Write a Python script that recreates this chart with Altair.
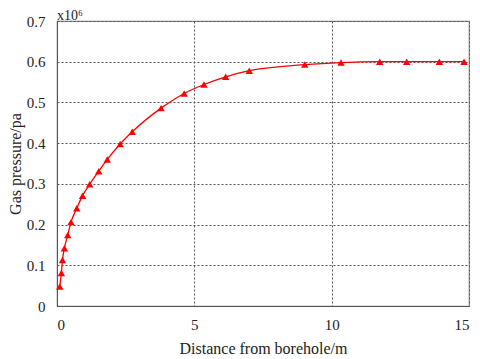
import altair as alt
import pandas as pd

distance = [0.1, 0.16, 0.2, 0.27, 0.39, 0.51, 0.72, 0.93, 1.19, 1.52, 1.83, 2.3, 2.74,
            3.79, 4.63, 5.35, 6.14, 7.0, 9.02, 10.34, 11.75, 12.73, 13.92, 14.82]
pressure = [0.048, 0.081, 0.113, 0.142, 0.174, 0.206, 0.24, 0.271, 0.299, 0.331, 0.36,
            0.398, 0.428, 0.486, 0.522, 0.544, 0.563, 0.578, 0.593, 0.598, 0.6, 0.6, 0.6, 0.6]
multiplier = ["x10⁶"]

df = pd.DataFrame({"d": distance, "p": pressure})
mdf = pd.DataFrame({"t": multiplier})

FONT = "Liberation Serif"

x = alt.X("d:Q", title="Distance from borehole/m",
          scale=alt.Scale(domain=[0, 15], nice=False),
          axis=alt.Axis(values=[0, 5, 10, 15], ticks=False, labelPadding=11,
                        titlePadding=8, labelFontSize=15, titleFontSize=16,
                        labelFont=FONT, titleFont=FONT, titleFontWeight="normal",
                        labelColor="#222", titleColor="#222",
                        domainColor="#555", gridColor="#555", gridDash=[2, 2],
                        gridWidth=1))
y = alt.Y("p:Q", title="Gas pressure/pa",
          scale=alt.Scale(domain=[0, 0.7], nice=False),
          axis=alt.Axis(values=[0, 0.1, 0.2, 0.3, 0.4, 0.5, 0.6, 0.7], ticks=False,
                        labelExpr="datum.value == 0 ? '0' : format(datum.value, '.1f')",
                        labelPadding=12, titlePadding=3, labelFontSize=15,
                        titleFontSize=16, labelFont=FONT, titleFont=FONT,
                        titleFontWeight="normal", labelColor="#222", titleColor="#222",
                        domainColor="#555", gridColor="#555", gridDash=[2, 2],
                        gridWidth=1))

line = alt.Chart(df).mark_line(color="#FF0000", strokeWidth=1.3,
                               interpolate="monotone").encode(x=x, y=y)
pts = alt.Chart(df).mark_point(shape="triangle-up", filled=True, color="#FF0000",
                               opacity=1, size=55).encode(x=x, y=y)
mult = alt.Chart(mdf).mark_text(font=FONT, fontSize=14, align="left",
                                baseline="alphabetic", color="#222").encode(
    text="t:N", x=alt.value(0), y=alt.value(-1))

chart = (line + pts + mult).properties(
    width=412, height=285,
    autosize=alt.AutoSizeParams(type="none"),
    padding={"left": 49, "top": 13, "right": 3, "bottom": 50},
).configure(font=FONT).configure_view(stroke="#888888", strokeWidth=1.2)

chart.save("out.html", embed_options={"renderer": "svg", "actions": False})
